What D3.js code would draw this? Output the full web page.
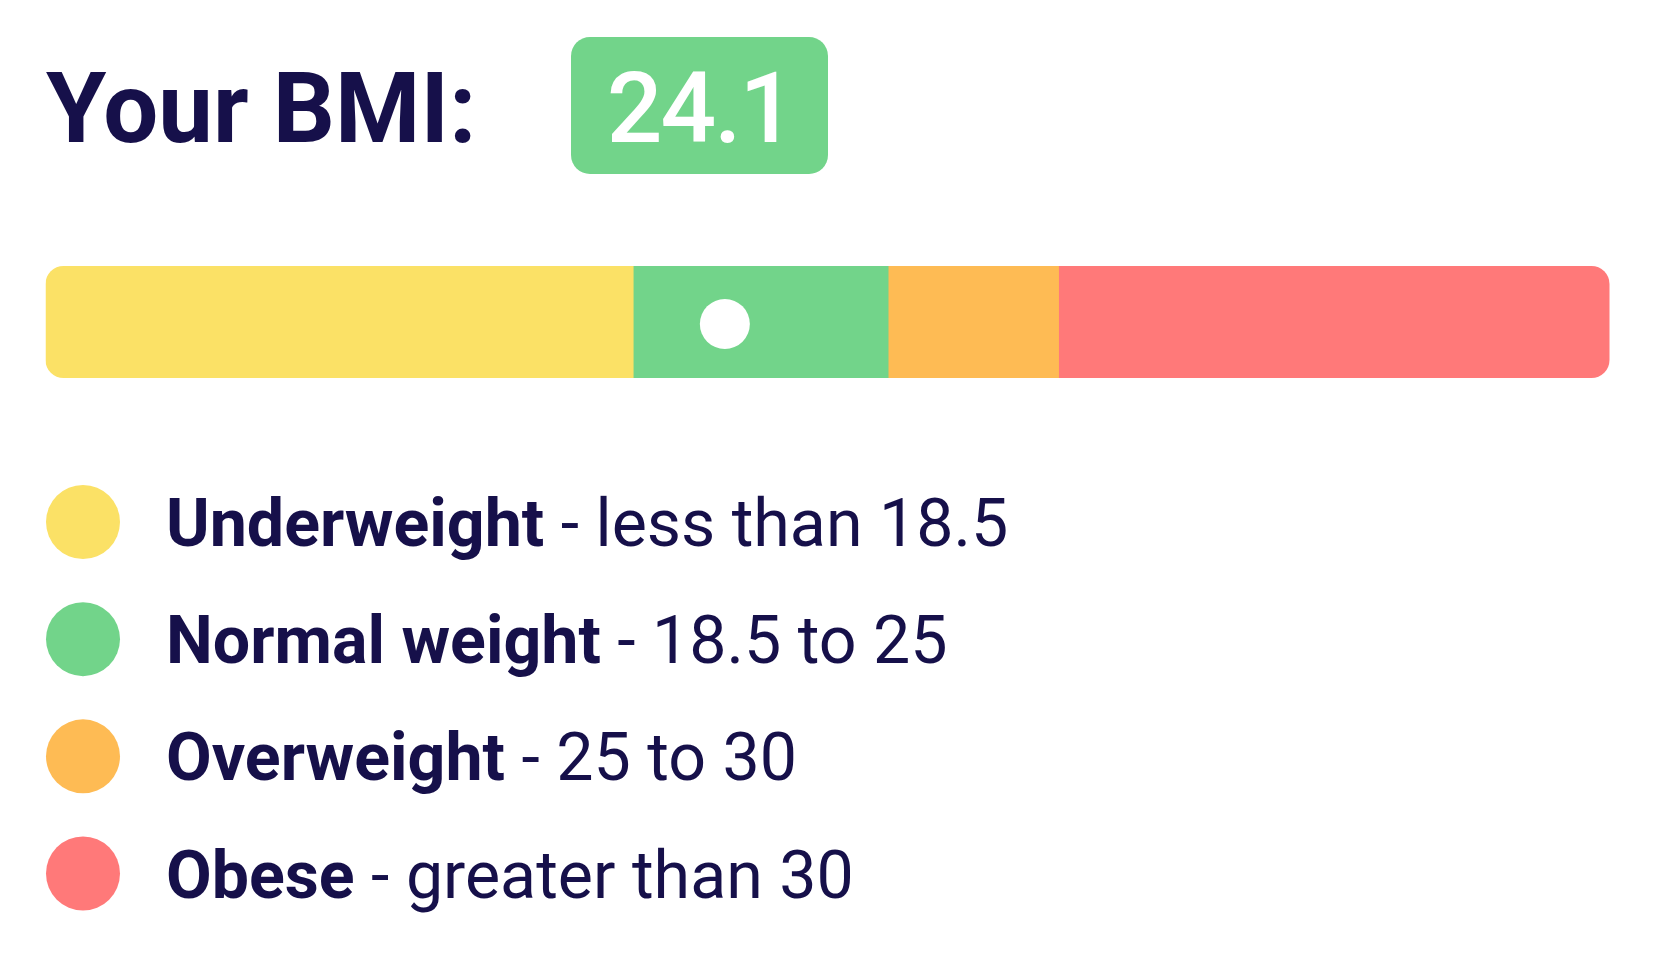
<!DOCTYPE html>
<html>
<head>
<meta charset="utf-8">
<script src="https://cdn.jsdelivr.net/npm/d3@7/dist/d3.min.js"></script>
<style>
  html, body { margin: 0; padding: 0; background: #ffffff; }
  svg { display: block; }
</style>
</head>
<body>
<svg id="chart" width="1666" height="970"></svg>
<script>
// ---- data ----
const bmiValue = 24.1;
const categories = ["Underweight", "Normal weight", "Overweight", "Obese"];
const rangeLabels = ["less than 18.5", "18.5 to 25", "25 to 30", "greater than 30"];
const thresholds = [18.5, 25, 30];
const bandShares = [37.6, 16.3, 10.9, 35.2];       // share of the bar (percent) used by each band
const markerDomain = [15, 35.95];                  // BMI range spanned by the gauge for the marker
const colors = ["#FBE166", "#72D48A", "#FEBB54", "#FF7979"];

// ---- layout ----
const svg = d3.select("#chart");
const ink = "#16104A";
const barX0 = 45.5, barX1 = 1609.5, barY = 266, barH = 112, barR = 18;

const shareScale = d3.scaleLinear().domain([0, d3.sum(bandShares)]).range([barX0, barX1]);
const markerScale = d3.scaleLinear().domain(markerDomain).range([barX0, barX1]);
const colorScale = d3.scaleOrdinal().domain(categories).range(colors);
const legendY = d3.scalePoint().domain(categories).range([522, 873.5]);

// category for the current BMI
const catIndex = d3.bisectRight(thresholds, bmiValue);
const currentCat = categories[catIndex];

// ---- title ----
svg.append("text")
  .attr("x", 46).attr("y", 141.5)
  .attr("font-family", "Roboto").attr("font-weight", 700)
  .attr("font-size", 97.5).attr("fill", ink)
  .text("Your BMI:");

// badge
svg.append("rect")
  .attr("x", 571).attr("y", 37).attr("width", 257).attr("height", 137)
  .attr("rx", 19).attr("ry", 19)
  .attr("fill", colorScale(currentCat));
svg.append("text")
  .attr("x", 700).attr("y", 141.5)
  .attr("text-anchor", "middle")
  .attr("font-family", "Roboto").attr("font-weight", 500)
  .attr("letter-spacing", -2)
  .attr("font-size", 98).attr("fill", "#ffffff")
  .text(d3.format(".1f")(bmiValue));

// ---- bar ----
const cum = d3.cumsum(bandShares);
const segs = categories.map((c, i) => ({ cat: c, s0: i === 0 ? 0 : cum[i - 1], s1: cum[i] }));

const defs = svg.append("defs");
defs.append("clipPath").attr("id", "barClip")
  .append("rect")
  .attr("x", barX0).attr("y", barY).attr("width", barX1 - barX0).attr("height", barH)
  .attr("rx", barR).attr("ry", barR);

svg.append("g").attr("clip-path", "url(#barClip)")
  .selectAll("rect").data(segs).join("rect")
  .attr("x", d => shareScale(d.s0))
  .attr("y", barY)
  .attr("width", d => shareScale(d.s1) - shareScale(d.s0) + 0.5)
  .attr("height", barH)
  .attr("fill", d => colorScale(d.cat));

// marker
svg.append("circle")
  .attr("cx", markerScale(bmiValue))
  .attr("cy", barY + barH / 2 + 2)
  .attr("r", 25)
  .attr("fill", "#ffffff");

// ---- legend ----
const leg = svg.append("g").selectAll("g").data(categories).join("g")
  .attr("transform", d => `translate(0,${legendY(d)})`);

leg.append("circle")
  .attr("cx", 83).attr("cy", 0).attr("r", 37)
  .attr("fill", d => colorScale(d));

const lt = leg.append("text")
  .attr("x", 166).attr("y", 24)
  .attr("font-family", "Roboto").attr("font-size", 66.3).attr("fill", ink);
lt.append("tspan").attr("font-weight", 700).text(d => d);
lt.append("tspan").attr("font-weight", 400).text((d, i) => " - " + rangeLabels[i]);
</script>
</body>
</html>
